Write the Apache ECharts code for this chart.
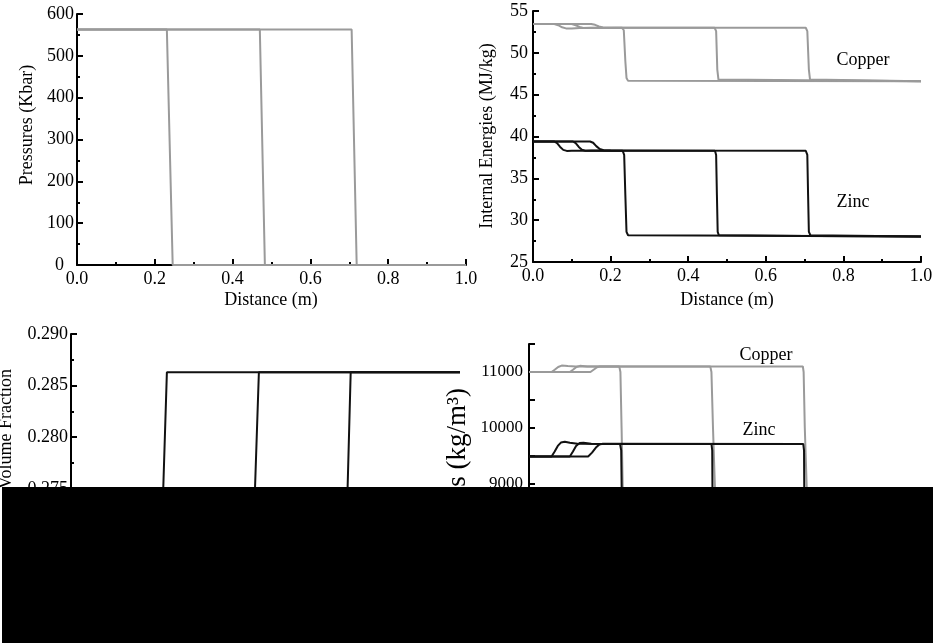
<!DOCTYPE html>
<html><head><meta charset="utf-8">
<script src="https://cdn.jsdelivr.net/npm/echarts@6/dist/echarts.min.js"></script>
<style>html,body{margin:0;padding:0;background:#fff}#c{width:943px;height:643px}</style>
</head><body><div id="c"></div>
<script>
// ---- Pressures (Kbar) vs distance (m), three snapshot times ----
const pressure1 = [[0,563],[0.231,563],[0.246,0],[1,0]];
const pressure2 = [[0,563],[0.470,563],[0.483,0],[1,0]];
const pressure3 = [[0,563],[0.706,563],[0.719,0],[1,0]];

// ---- Internal energies (MJ/kg) ----
const energyCopper1 = [[0,53.45],[0.055,53.45],[0.065,53.3],[0.075,53.05],[0.085,52.92],[0.1,52.92],[0.12,52.98],[0.229,53.0],[0.234,52.7],[0.238,49.0],[0.241,47.0],[0.245,46.65],[1,46.6]];
const energyCopper2 = [[0,53.45],[0.1,53.45],[0.11,53.3],[0.12,53.1],[0.13,52.97],[0.15,53.0],[0.468,53.0],[0.472,52.6],[0.475,48],[0.478,46.8],[0.482,46.65],[1,46.6]];
const energyCopper3 = [[0,53.45],[0.15,53.45],[0.16,53.35],[0.17,53.15],[0.18,53.02],[0.2,53.0],[0.703,53.0],[0.707,52.6],[0.711,48],[0.714,46.8],[0.718,46.65],[1,46.6]];
const energyZinc1 = [[0,39.4],[0.055,39.4],[0.062,39.2],[0.07,38.75],[0.078,38.4],[0.087,38.28],[0.1,38.3],[0.231,38.3],[0.235,37.8],[0.238,33],[0.241,28.6],[0.245,28.2],[0.6,28.15],[1,28.05]];
const energyZinc2 = [[0,39.4],[0.103,39.4],[0.11,39.2],[0.118,38.75],[0.126,38.42],[0.135,38.3],[0.15,38.32],[0.469,38.3],[0.472,37.8],[0.474,33],[0.476,28.6],[0.479,28.2],[0.7,28.12],[1,28.05]];
const energyZinc3 = [[0,39.4],[0.147,39.4],[0.155,39.25],[0.163,38.85],[0.172,38.5],[0.182,38.35],[0.2,38.33],[0.703,38.3],[0.707,37.8],[0.709,33],[0.711,28.6],[0.715,28.2],[1,28.05]];

// ---- Volume fraction ----
const volumeFraction1 = [[0,0.2705],[0.2334,0.2705],[0.2465,0.2863],[1,0.2863]];
const volumeFraction2 = [[0,0.2705],[0.469,0.2705],[0.483,0.2863],[1,0.2863]];
const volumeFraction3 = [[0,0.2705],[0.7078,0.2705],[0.719,0.2863],[1,0.2863]];

// ---- Densities (kg/m3) ----
const densityCopper1 = [[0,11000],[0.058,11000],[0.066,11040],[0.075,11090],[0.084,11115],[0.1,11105],[0.12,11100],[0.232,11100],[0.235,11000],[0.238,10000],[0.241,8930],[1,8930]];
const densityCopper2 = [[0,11000],[0.105,11000],[0.113,11040],[0.122,11090],[0.131,11110],[0.15,11100],[0.466,11100],[0.469,11000],[0.473,10000],[0.478,8930],[1,8930]];
const densityCopper3 = [[0,11000],[0.158,11000],[0.166,11040],[0.175,11085],[0.183,11100],[0.704,11100],[0.706,11000],[0.709,10000],[0.714,8930],[1,8930]];
const densityZinc1 = [[0,9490],[0.058,9490],[0.066,9580],[0.074,9680],[0.082,9740],[0.092,9755],[0.105,9735],[0.125,9718],[0.234,9715],[0.237,9600],[0.239,8500],[0.241,7140],[1,7140]];
const densityZinc2 = [[0,9490],[0.105,9490],[0.113,9580],[0.121,9680],[0.13,9732],[0.14,9738],[0.16,9720],[0.469,9715],[0.471,9600],[0.472,8500],[0.474,7140],[1,7140]];
const densityZinc3 = [[0,9490],[0.152,9490],[0.162,9560],[0.172,9650],[0.181,9705],[0.19,9718],[0.705,9715],[0.707,9600],[0.708,8500],[0.71,7140],[1,7140]];

// ---- axis ranges / titles ----
const xRange = [0, 1, 0.2];
const pressureRange = [0, 600, 100];
const energyRange = [25, 55, 5];
const fractionRange = [0.265, 0.290, 0.005];
const densityRange = [7000, 11500, 500];
const xTitle = 'Distance (m)';
const yTitles = ['Pressures (Kbar)', 'Internal Energies (MJ/kg)', 'Volume Fraction', 'Densities (kg/m³)'];
const annotations = ['Copper', 'Zinc'];

const FONT = '"Liberation Serif","Times New Roman",serif';
const GRAY = '#9a9a9a', BLACK = '#111';

function xAx(g){
  return {type:'value', gridIndex:g, min:xRange[0], max:xRange[1], interval:xRange[2],
    axisLine:{lineStyle:{color:'#000', width:2}},
    axisTick:{inside:true, length:6, lineStyle:{color:'#000', width:2}},
    minorTick:{show:true, splitNumber:2, length:3, lineStyle:{color:'#000', width:2}},
    splitLine:{show:false}, minorSplitLine:{show:false},
    axisLabel:{color:'#000', fontFamily:FONT, fontSize:18, margin:5, formatter:v=>v.toFixed(1)}};
}
function yAx(g, r, fmt, margin, fs, minor, rich){
  return {type:'value', gridIndex:g, min:r[0], max:r[1], interval:r[2],
    axisLine:{show:true, lineStyle:{color:'#000', width:2}},
    axisTick:{show:true, inside:true, length:6, lineStyle:{color:'#000', width:2}},
    minorTick:{show:minor, splitNumber:2, length:3, lineStyle:{color:'#000', width:2}},
    splitLine:{show:false}, minorSplitLine:{show:false},
    axisLabel:{color:'#000', fontFamily:FONT, fontSize:fs, margin:margin, formatter:fmt, rich:rich}};
}
function ser(g, data, color){
  return {type:'line', xAxisIndex:g, yAxisIndex:g, data:data, showSymbol:false, symbol:'none',
    clip:false, lineStyle:{color:color, width:2}, animation:false, silent:true};
}
function txt(x, y, s, rot, align, size){
  const a = align || 'center';
  return {type:'text', x:x, y:y, rotation:rot||0, z:10,
    style:{text:s, font:(size||18)+'px '+FONT, fill:'#000', align:a, verticalAlign:'middle', textAlign:a, textVerticalAlign:'middle'}};
}

const chart = echarts.init(document.getElementById('c'), null, {renderer:'canvas'});
chart.setOption({
  animation:false,
  backgroundColor:'#fff',
  grid:[
    {left:77, top:14, width:389, height:251, containLabel:false, outerBoundsMode:'none'},
    {left:533, top:11, width:388, height:251, containLabel:false, outerBoundsMode:'none'},
    {left:71, top:334, width:389, height:258, containLabel:false, outerBoundsMode:'none'},
    {left:529, top:344, width:389, height:252, containLabel:false, outerBoundsMode:'none'}
  ],
  xAxis:[xAx(0), xAx(1), xAx(2), xAx(3)],
  yAxis:[
    yAx(0, pressureRange, v=>(v===0?'{z|0}':String(v)), 3, 18, true,
        {z:{fontFamily:FONT, fontSize:18, color:'#000', padding:[0,10,0,0]}}),
    yAx(1, energyRange, v=>String(v), 5, 18, true),
    yAx(2, fractionRange, v=>v.toFixed(3), 3, 18, true),
    yAx(3, densityRange, v=>(v%1000===0?String(v):''), 6, 17, false)
  ],
  series:[
    ser(0, pressure1, GRAY), ser(0, pressure2, GRAY), ser(0, pressure3, GRAY),
    ser(1, energyCopper1, GRAY), ser(1, energyCopper2, GRAY), ser(1, energyCopper3, GRAY),
    ser(1, energyZinc1, BLACK), ser(1, energyZinc2, BLACK), ser(1, energyZinc3, BLACK),
    ser(2, volumeFraction1, BLACK), ser(2, volumeFraction2, BLACK), ser(2, volumeFraction3, BLACK),
    ser(3, densityCopper1, GRAY), ser(3, densityCopper2, GRAY), ser(3, densityCopper3, GRAY),
    ser(3, densityZinc1, BLACK), ser(3, densityZinc2, BLACK), ser(3, densityZinc3, BLACK)
  ],
  graphic:{elements:[
    txt(27, 125, yTitles[0], Math.PI/2),
    txt(271, 300, xTitle),
    txt(487, 136, yTitles[1], Math.PI/2),
    txt(727, 300, xTitle),
    txt(6, 369, yTitles[2], Math.PI/2, 'right'),
    txt(458, 388, yTitles[3], Math.PI/2, 'right', 27),
    txt(863, 60, annotations[0]),
    txt(853, 202, annotations[1]),
    txt(766, 355, annotations[0]),
    txt(759, 430, annotations[1]),
    {type:'rect', z:100, shape:{x:2, y:487, width:931, height:156}, style:{fill:'#000'}}
  ]}
});
</script></body></html>
